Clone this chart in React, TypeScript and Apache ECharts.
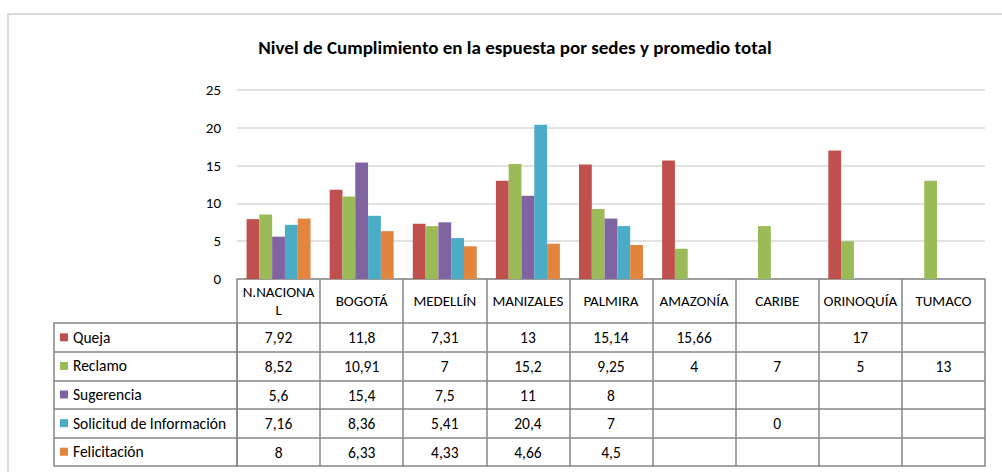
import React, { useEffect, useRef } from "react";
import * as echarts from "echarts";

const categories = ["N.NACIONAL", "BOGOTÁ", "MEDELLÍN", "MANIZALES", "PALMIRA", "AMAZONÍA", "CARIBE", "ORINOQUÍA", "TUMACO"];
const queja = [7.92, 11.8, 7.31, 13, 15.14, 15.66, null, 17, null];
const reclamo = [8.52, 10.91, 7, 15.2, 9.25, 4, 7, 5, 13];
const sugerencia = [5.6, 15.4, 7.5, 11, 8, null, null, null, null];
const solicitud = [7.16, 8.36, 5.41, 20.4, 7, null, 0, null, null];
const felicitacion = [8, 6.33, 4.33, 4.66, 4.5, null, null, null, null];
const seriesNames = ["Queja", "Reclamo", "Sugerencia", "Solicitud de Información", "Felicitación"];
const seriesColors = ["#C0504D", "#9BBB59", "#8064A2", "#4BACC6", "#E2853F"];
const yTicks = [0, 5, 10, 15, 20, 25];
const titleText = "Nivel de Cumplimiento en la espuesta por sedes y promedio total";

const FONT = "Carlito, Calibri, Lato, 'Open Sans', sans-serif";
const LINE = "#868686";
const FS = 15.5;
const WRAP_CHARS = 9;

export default function App() {
  const ref = useRef<HTMLDivElement>(null);
  useEffect(() => {
    if (!ref.current) return;
    const chart = echarts.init(ref.current, null, { renderer: "svg" });
    const allSeries = [queja, reclamo, sugerencia, solicitud, felicitacion];
    const fmt = (v: number | null) => (v === null || v === undefined ? "" : String(v).replace(".", ","));
    const wrap = (s: string) => (s.length > WRAP_CHARS ? s.slice(0, WRAP_CHARS) + "\n" + s.slice(WRAP_CHARS) : s);
    const rowOffsets = [44, 73, 102, 130, 159];
    const rowH = 28.6;

    const rowAxes = allSeries.map((data, i) => ({
      type: "category",
      gridIndex: 0,
      data: categories,
      position: "bottom",
      offset: rowOffsets[i],
      boundaryGap: true,
      axisLine: { show: true, lineStyle: { color: LINE, width: 1.5 } },
      axisTick: { show: true, inside: false, length: rowH, interval: 0, lineStyle: { color: LINE, width: 1.5 } },
      axisLabel: {
        show: true,
        interval: 0,
        margin: rowH / 2,
        verticalAlign: "middle",
        fontFamily: FONT,
        fontSize: FS,
        color: "#000",
        formatter: (_v: string, idx: number) => fmt(data[idx]),
      },
      splitLine: { show: false },
    }));

    const option: any = {
      animation: false,
      backgroundColor: "#fff",
      textStyle: { fontFamily: FONT },
      title: {
        text: titleText,
        left: 510,
        top: 33,
        textAlign: "center",
        textStyle: { fontFamily: FONT, fontSize: 19, fontWeight: "bold", color: "#000" },
      },
      legend: {
        orient: "vertical",
        left: 60,
        top: 323,
        padding: 0,
        itemGap: 0,
        itemWidth: 8,
        itemHeight: 8,
        icon: "rect",
        data: seriesNames,
        textStyle: { fontFamily: FONT, fontSize: FS, color: "#000", lineHeight: rowH },
      },
      grid: { left: 237, right: 17, top: 90, bottom: 193, containLabel: false },
      xAxis: [
        {
          type: "category",
          data: categories,
          boundaryGap: true,
          axisLine: { show: true, lineStyle: { color: LINE, width: 1.5 } },
          axisTick: { show: true, inside: false, length: 44, interval: 0, lineStyle: { color: LINE, width: 1.5 } },
          axisLabel: {
            interval: 0,
            margin: 22,
            verticalAlign: "middle",
            fontFamily: FONT,
            fontSize: 15,
            color: "#000",
            lineHeight: 18,
            formatter: (v: string) => wrap(v),
          },
        },
        ...rowAxes,
        {
          type: "category",
          gridIndex: 0,
          data: categories,
          position: "bottom",
          offset: 187,
          axisLine: { show: true, lineStyle: { color: LINE, width: 1.5 } },
          axisTick: { show: false },
          axisLabel: { show: false },
        },
      ],
      yAxis: {
        type: "value",
        min: 0,
        max: yTicks[yTicks.length - 1],
        interval: 5,
        axisLine: { show: false },
        axisTick: { show: false },
        axisLabel: { fontFamily: FONT, fontSize: 15, color: "#000", margin: 16 },
        splitLine: { lineStyle: { color: "#D9D9D9", width: 1.5 } },
      },
      series: allSeries.map((data, i) => ({
        name: seriesNames[i],
        type: "bar",
        xAxisIndex: 0,
        data,
        barGap: "0%",
        barCategoryGap: "23%",
        itemStyle: { color: seriesColors[i] },
      })),
      graphic: [
        {
          type: "rect",
          shape: { x: 8, y: 14, width: 1200, height: 800 },
          style: { fill: "none", stroke: "#D9D9D9", lineWidth: 2 },
          silent: true,
          z: 0,
        },
        {
          type: "rect",
          shape: { x: 54, y: 323, width: 183, height: 143 },
          style: { fill: "none", stroke: LINE, lineWidth: 1.5 },
          silent: true,
        },
        ...[352, 381, 409, 438].map((y) => ({
          type: "line",
          shape: { x1: 54, y1: y, x2: 237, y2: y },
          style: { stroke: LINE, lineWidth: 1.5 },
          silent: true,
        })),
      ],
    };
    chart.setOption(option);
    return () => chart.dispose();
  }, []);
  return <div ref={ref} style={{ position: "fixed", left: 0, top: 0, width: 1002, height: 472 }} />;
}
